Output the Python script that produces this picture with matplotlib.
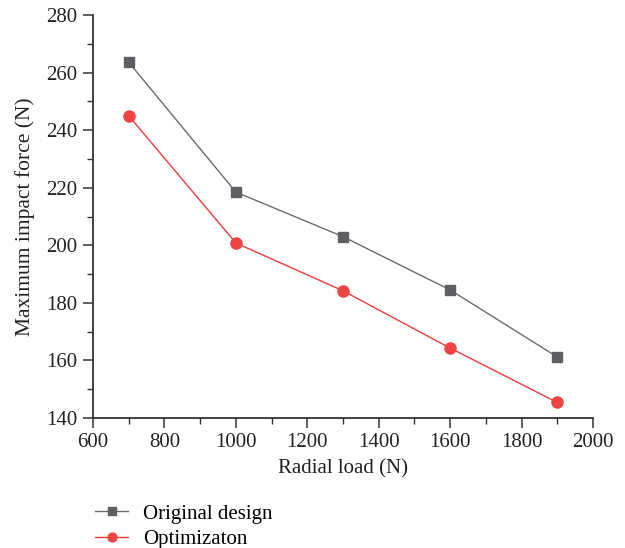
import matplotlib.pyplot as plt

plt.rcParams['font.family'] = ['Liberation Serif', 'DejaVu Serif']

# data
radial_load = [700, 1000, 1300, 1600, 1900]
original = [263.6, 218.5, 203.0, 184.5, 161.2]
optimized = [245.0, 200.8, 184.2, 164.3, 145.4]

fig = plt.figure(figsize=(6.25, 5.48), dpi=100)
ax = fig.add_axes([0.1488, 0.2372, 0.8, 0.7354])

ax.plot(radial_load, original, color='#6b6b6b', lw=1.0, marker='s', ms=7,
        mfc='#5f5f63', mec='#5f5f63', label='Original design')
ax.plot(radial_load, optimized, color='#ee3b3b', lw=1.0, marker='o', ms=8,
        mfc='#ef4444', mec='#ef4444', label='Optimizaton')

ax.set_xlim(600, 2000)
ax.set_ylim(140, 280)
ax.set_xticks(range(600, 2001, 200))
ax.set_yticks(range(140, 281, 20))
ax.set_xticks(range(700, 2000, 200), minor=True)
ax.set_yticks(range(150, 280, 20), minor=True)

for s in ['top', 'right']:
    ax.spines[s].set_visible(False)
for s in ['left', 'bottom']:
    ax.spines[s].set_linewidth(1.3)
    ax.spines[s].set_color('#333333')

ax.tick_params(which='major', direction='out', length=7, width=1.1,
               labelsize=15, colors='#333333', labelcolor='#222222', pad=4)
ax.tick_params(which='minor', direction='out', length=4, width=1.0, colors='#333333')

ax.set_xlabel('Radial load (N)', fontsize=15, color='#222222', labelpad=5)
ax.set_ylabel('Maximum impact force (N)', fontsize=15.5, color='#222222', labelpad=8)

# legend below the axes, left aligned with the y axis
fig.legend(loc='upper left', bbox_to_anchor=(0.152, 1 - 504 / 548), frameon=False,
           fontsize=15, handlelength=1.6, handletextpad=0.7, labelspacing=0.3,
           borderaxespad=0, borderpad=0, markerscale=0.8)

fig.savefig('out.png', dpi=100)
